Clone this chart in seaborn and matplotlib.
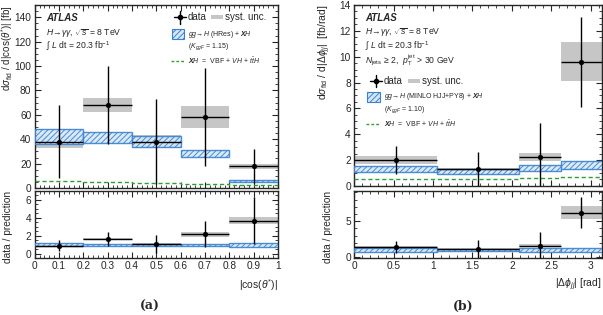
import numpy as np
import pandas as pd
import seaborn as sns
import matplotlib
matplotlib.use('Agg')
import matplotlib.pyplot as plt
from matplotlib.ticker import MultipleLocator, AutoMinorLocator

# --- DATA ---

# (a) |cos(theta*)|
cos_edges = [0.0, 0.2, 0.4, 0.6, 0.8, 1.0]
cos_xsec = [38, 68, 38, 58, 18]
cos_err = [30, 32, 35, 40, 14]
cos_syst = [5, 6, 5.5, 9, 2]
cos_pred = [42.5, 41.5, 38.4, 28.3, 5.6]
cos_pred_err = [6, 4.8, 4.4, 3, 1]
cos_xh = [5.5, 5, 4.5, 3.5, 2.5]
cos_ratio = [0.92, 1.67, 1.05, 2.19, 3.7]
cos_ratio_err = [0.62, 0.75, 1.0, 1.45, 2.65]
cos_ratio_syst = [0.12, 0.15, 0.15, 0.3, 0.4]
cos_ratio_pred_err = [0.17, 0.12, 0.12, 0.12, 0.18]

# (b) |delta phi_jj|
dphi_edges = [0.0, np.pi / 3, 2 * np.pi / 3, 5 * np.pi / 6, np.pi]
dphi_xsec = [2.0, 1.3, 2.25, 9.6]
dphi_err = [1.05, 1.35, 2.6, 3.5]
dphi_syst = [0.3, 0.12, 0.3, 1.5]
dphi_pred = [1.3, 1.13, 1.36, 1.63]
dphi_pred_err = [0.22, 0.2, 0.24, 0.3]
dphi_xh = [0.5, 0.5, 0.6, 0.7]
dphi_ratio = [1.46, 1.14, 1.6, 6.2]
dphi_ratio_err = [0.85, 1.3, 1.9, 2.2]
dphi_ratio_syst = [0.12, 0.1, 0.2, 0.9]
dphi_ratio_pred_err = [0.25, 0.2, 0.25, 0.25]

# --- STYLE ---
sns.set_style('ticks')
BLUE = '#3a82d0'
BLUE_FILL = '#d6e8f8'
GRAY = '#c6c6c6'
GREEN = '#2ca02c'

plt.rcParams['font.family'] = ['Liberation Sans', 'DejaVu Sans']
plt.rcParams['mathtext.fontset'] = 'custom'
plt.rcParams['mathtext.rm'] = 'Liberation Sans'
plt.rcParams['mathtext.it'] = 'Liberation Sans:italic'
plt.rcParams['mathtext.bf'] = 'Liberation Sans:bold:italic'
plt.rcParams['hatch.linewidth'] = 0.7
plt.rcParams['hatch.color'] = BLUE


def style_axes(ax, xmaj, ymaj):
    ax.xaxis.set_major_locator(MultipleLocator(xmaj))
    ax.yaxis.set_major_locator(MultipleLocator(ymaj))
    ax.xaxis.set_minor_locator(AutoMinorLocator(5))
    ax.yaxis.set_minor_locator(AutoMinorLocator(5))
    ax.tick_params(which='both', direction='in', top=True, right=True,
                   labelsize=7.3, pad=2.5)
    ax.tick_params(which='major', length=4, width=0.8)
    ax.tick_params(which='minor', length=2, width=0.6)
    for s in ax.spines.values():
        s.set_linewidth(1.0)


def draw_bins(ax, edges, vals, err, syst, pred, pred_err, xh=None):
    edges = np.asarray(edges)
    centers = 0.5 * (edges[1:] + edges[:-1])
    widths = np.diff(edges)
    vals = np.asarray(vals)
    syst = np.asarray(syst)
    pred = np.asarray(pred)
    pred_err = np.asarray(pred_err)
    # systematic boxes
    ax.bar(centers, 2 * syst, bottom=vals - syst, width=widths,
           color=GRAY, linewidth=0, zorder=2)
    # prediction (hatched)
    ax.bar(centers, 2 * pred_err, bottom=pred - pred_err, width=widths,
           facecolor=BLUE_FILL, edgecolor=BLUE, hatch='//////', linewidth=1.0,
           alpha=0.9, zorder=3)
    # XH contribution
    if xh is not None:
        steps = pd.DataFrame({'x': edges, 'y': list(xh) + [xh[-1]]})
        sns.lineplot(data=steps, x='x', y='y', ax=ax, drawstyle='steps-post',
                     color=GREEN, linestyle=(0, (3, 2)), linewidth=1.0, zorder=4)
    # data
    ax.errorbar(centers, vals, yerr=err, xerr=widths / 2, fmt='none',
                ecolor='black', elinewidth=1.0, capsize=0, zorder=5)
    pts = pd.DataFrame({'x': centers, 'y': vals})
    sns.scatterplot(data=pts, x='x', y='y', ax=ax, color='black', s=12,
                    edgecolor='black', zorder=6)
    ax.set_xlabel('')
    ax.set_ylabel('')


def draw_legend(ax, x0, y_data, y_hatch, y_k, y_green, gen_label, k_label):
    tr = ax.transAxes
    # data marker
    ax.plot([x0 - 0.025, x0 + 0.025], [y_data, y_data], color='black', lw=1.0, transform=tr)
    ax.plot([x0, x0], [y_data - 0.035, y_data + 0.035], color='black', lw=1.0, transform=tr)
    ax.plot([x0], [y_data], 'o', color='black', ms=3, transform=tr)
    ax.text(x0 + 0.032, y_data, 'data', fontsize=7, va='center', transform=tr)
    ax.add_patch(plt.Rectangle((x0 + 0.128, y_data - 0.012), 0.048, 0.024,
                               color=GRAY, lw=0, transform=tr))
    ax.text(x0 + 0.185, y_data, 'syst. unc.', fontsize=7, va='center', transform=tr)
    # hatched prediction
    ax.add_patch(plt.Rectangle((x0 - 0.035, y_hatch - 0.027), 0.05, 0.054,
                               facecolor=BLUE_FILL, edgecolor=BLUE, hatch='//////',
                               lw=0.8, transform=tr))
    ax.text(x0 + 0.03, y_hatch, gen_label, fontsize=5, va='center', transform=tr)
    ax.text(x0 + 0.03, y_k, k_label, fontsize=5, va='center', transform=tr)
    # XH line
    ax.plot([x0 - 0.04, x0 + 0.015], [y_green, y_green], color=GREEN,
            linestyle=(0, (2, 1.5)), lw=1.0, transform=tr)
    ax.text(x0 + 0.03, y_green, r'$\mathbf{X}H$  =  VBF + $VH$ + $t\bar{t}H$',
            fontsize=5, va='center', transform=tr)


def draw_header(ax, x, ys, extra=None):
    tr = ax.transAxes
    ax.text(x, ys[0], 'ATLAS', fontsize=7, fontweight='bold', style='italic',
            va='center', transform=tr)
    ax.text(x, ys[1], r'$H\!\rightarrow\!\gamma\gamma$, $\sqrt{s}$ = 8 TeV', fontsize=6.2,
            va='center', transform=tr)
    ax.text(x, ys[2], r'∫ $L$ dt = 20.3 fb$^{-1}$', fontsize=6.2,
            va='center', transform=tr)
    if extra is not None:
        ax.text(x, ys[3], extra, fontsize=6.2, va='center', transform=tr)


fig = plt.figure(figsize=(6.03, 3.15), dpi=100)

# --- (a) ---
axa = fig.add_axes([0.0576, 0.403, 0.4035, 0.581])
axa_r = fig.add_axes([0.0576, 0.181, 0.4035, 0.213])
draw_bins(axa, cos_edges, cos_xsec, cos_err, cos_syst, cos_pred, cos_pred_err, cos_xh)
draw_bins(axa_r, cos_edges, cos_ratio, cos_ratio_err, cos_ratio_syst,
          np.ones(len(cos_ratio)), cos_ratio_pred_err)
axa.set_xlim(0, 1)
axa.set_ylim(0, 150)
axa_r.set_xlim(0, 1)
axa_r.set_ylim(-0.45, 7)
style_axes(axa, 0.1, 20)
style_axes(axa_r, 0.1, 2)
axa.set_xticklabels([])
axa_r.set_xticks(np.arange(0, 1.01, 0.1))
axa_r.set_xticklabels(['0', '0.1', '0.2', '0.3', '0.4', '0.5', '0.6', '0.7', '0.8', '0.9', '1'])
axa.yaxis.set_minor_locator(AutoMinorLocator(4))
axa_r.yaxis.set_minor_locator(AutoMinorLocator(4))
axa.set_ylabel(r'd$\sigma_{\rm fid}$ / d|cos($\theta^{*}$)| [fb]', fontsize=7, loc='top')
axa_r.set_ylabel('data / prediction', fontsize=7.3, loc='top')
axa_r.set_xlabel(r'|cos($\theta^{*}$)|', fontsize=7.5, loc='right')
axa.yaxis.set_label_coords(-0.083, 1.0)
axa_r.yaxis.set_label_coords(-0.088, 1.0)

draw_header(axa, 0.046, [0.927, 0.845, 0.777])
draw_legend(axa, 0.598, 0.933, 0.84, 0.772, 0.696,
            r'$gg\!\rightarrow\!H$ (HRes) + $\mathbf{X}H$', r'($K_{ggF}$ = 1.15)')

# --- (b) ---
axb = fig.add_axes([0.5876, 0.41, 0.4104, 0.574])
axb_r = fig.add_axes([0.5876, 0.181, 0.4104, 0.213])
draw_bins(axb, dphi_edges, dphi_xsec, dphi_err, dphi_syst, dphi_pred, dphi_pred_err, dphi_xh)
draw_bins(axb_r, dphi_edges, dphi_ratio, dphi_ratio_err, dphi_ratio_syst,
          np.ones(len(dphi_ratio)), dphi_ratio_pred_err)
axb.set_xlim(0, np.pi)
axb.set_ylim(0, 14)
axb_r.set_xlim(0, np.pi)
axb_r.set_ylim(-0.1, 9.2)
style_axes(axb, 0.5, 2)
style_axes(axb_r, 0.5, 5)
axb.set_xticklabels([])
axb_r.set_xticks([0, 0.5, 1, 1.5, 2, 2.5, 3])
axb_r.set_xticklabels(['0', '0.5', '1', '1.5', '2', '2.5', '3'])
axb.yaxis.set_minor_locator(AutoMinorLocator(4))
axb_r.yaxis.set_minor_locator(AutoMinorLocator(5))
axb.set_ylabel(r'd$\sigma_{\rm fid}$ / d|$\Delta\phi_{jj}$|  [fb/rad]', fontsize=7.5, loc='top')
axb_r.set_ylabel('data / prediction', fontsize=7.3, loc='top')
axb_r.set_xlabel(r'|$\Delta\phi_{jj}$| [rad]', fontsize=7.5, loc='right')
axb.yaxis.set_label_coords(-0.088, 1.0)
axb_r.yaxis.set_label_coords(-0.088, 1.0)

draw_header(axb, 0.043, [0.926, 0.849, 0.775, 0.696],
            r'$N_{\rm jets}$ ≥ 2,  $p_{\rm T}^{\rm jet}$ > 30 GeV')
draw_legend(axb, 0.088, 0.58, 0.493, 0.424, 0.343,
            r'$gg\!\rightarrow\!H$ (MINLO HJJ+PY8) + $\mathbf{X}H$', r'($K_{ggF}$ = 1.10)')

fig.text(0.249, 0.026, '(a)', fontsize=9, fontweight='bold', family='DejaVu Serif',
         ha='center', va='center')
fig.text(0.768, 0.026, '(b)', fontsize=9, fontweight='bold', family='DejaVu Serif',
         ha='center', va='center')

fig.savefig('out.png', dpi=100)
